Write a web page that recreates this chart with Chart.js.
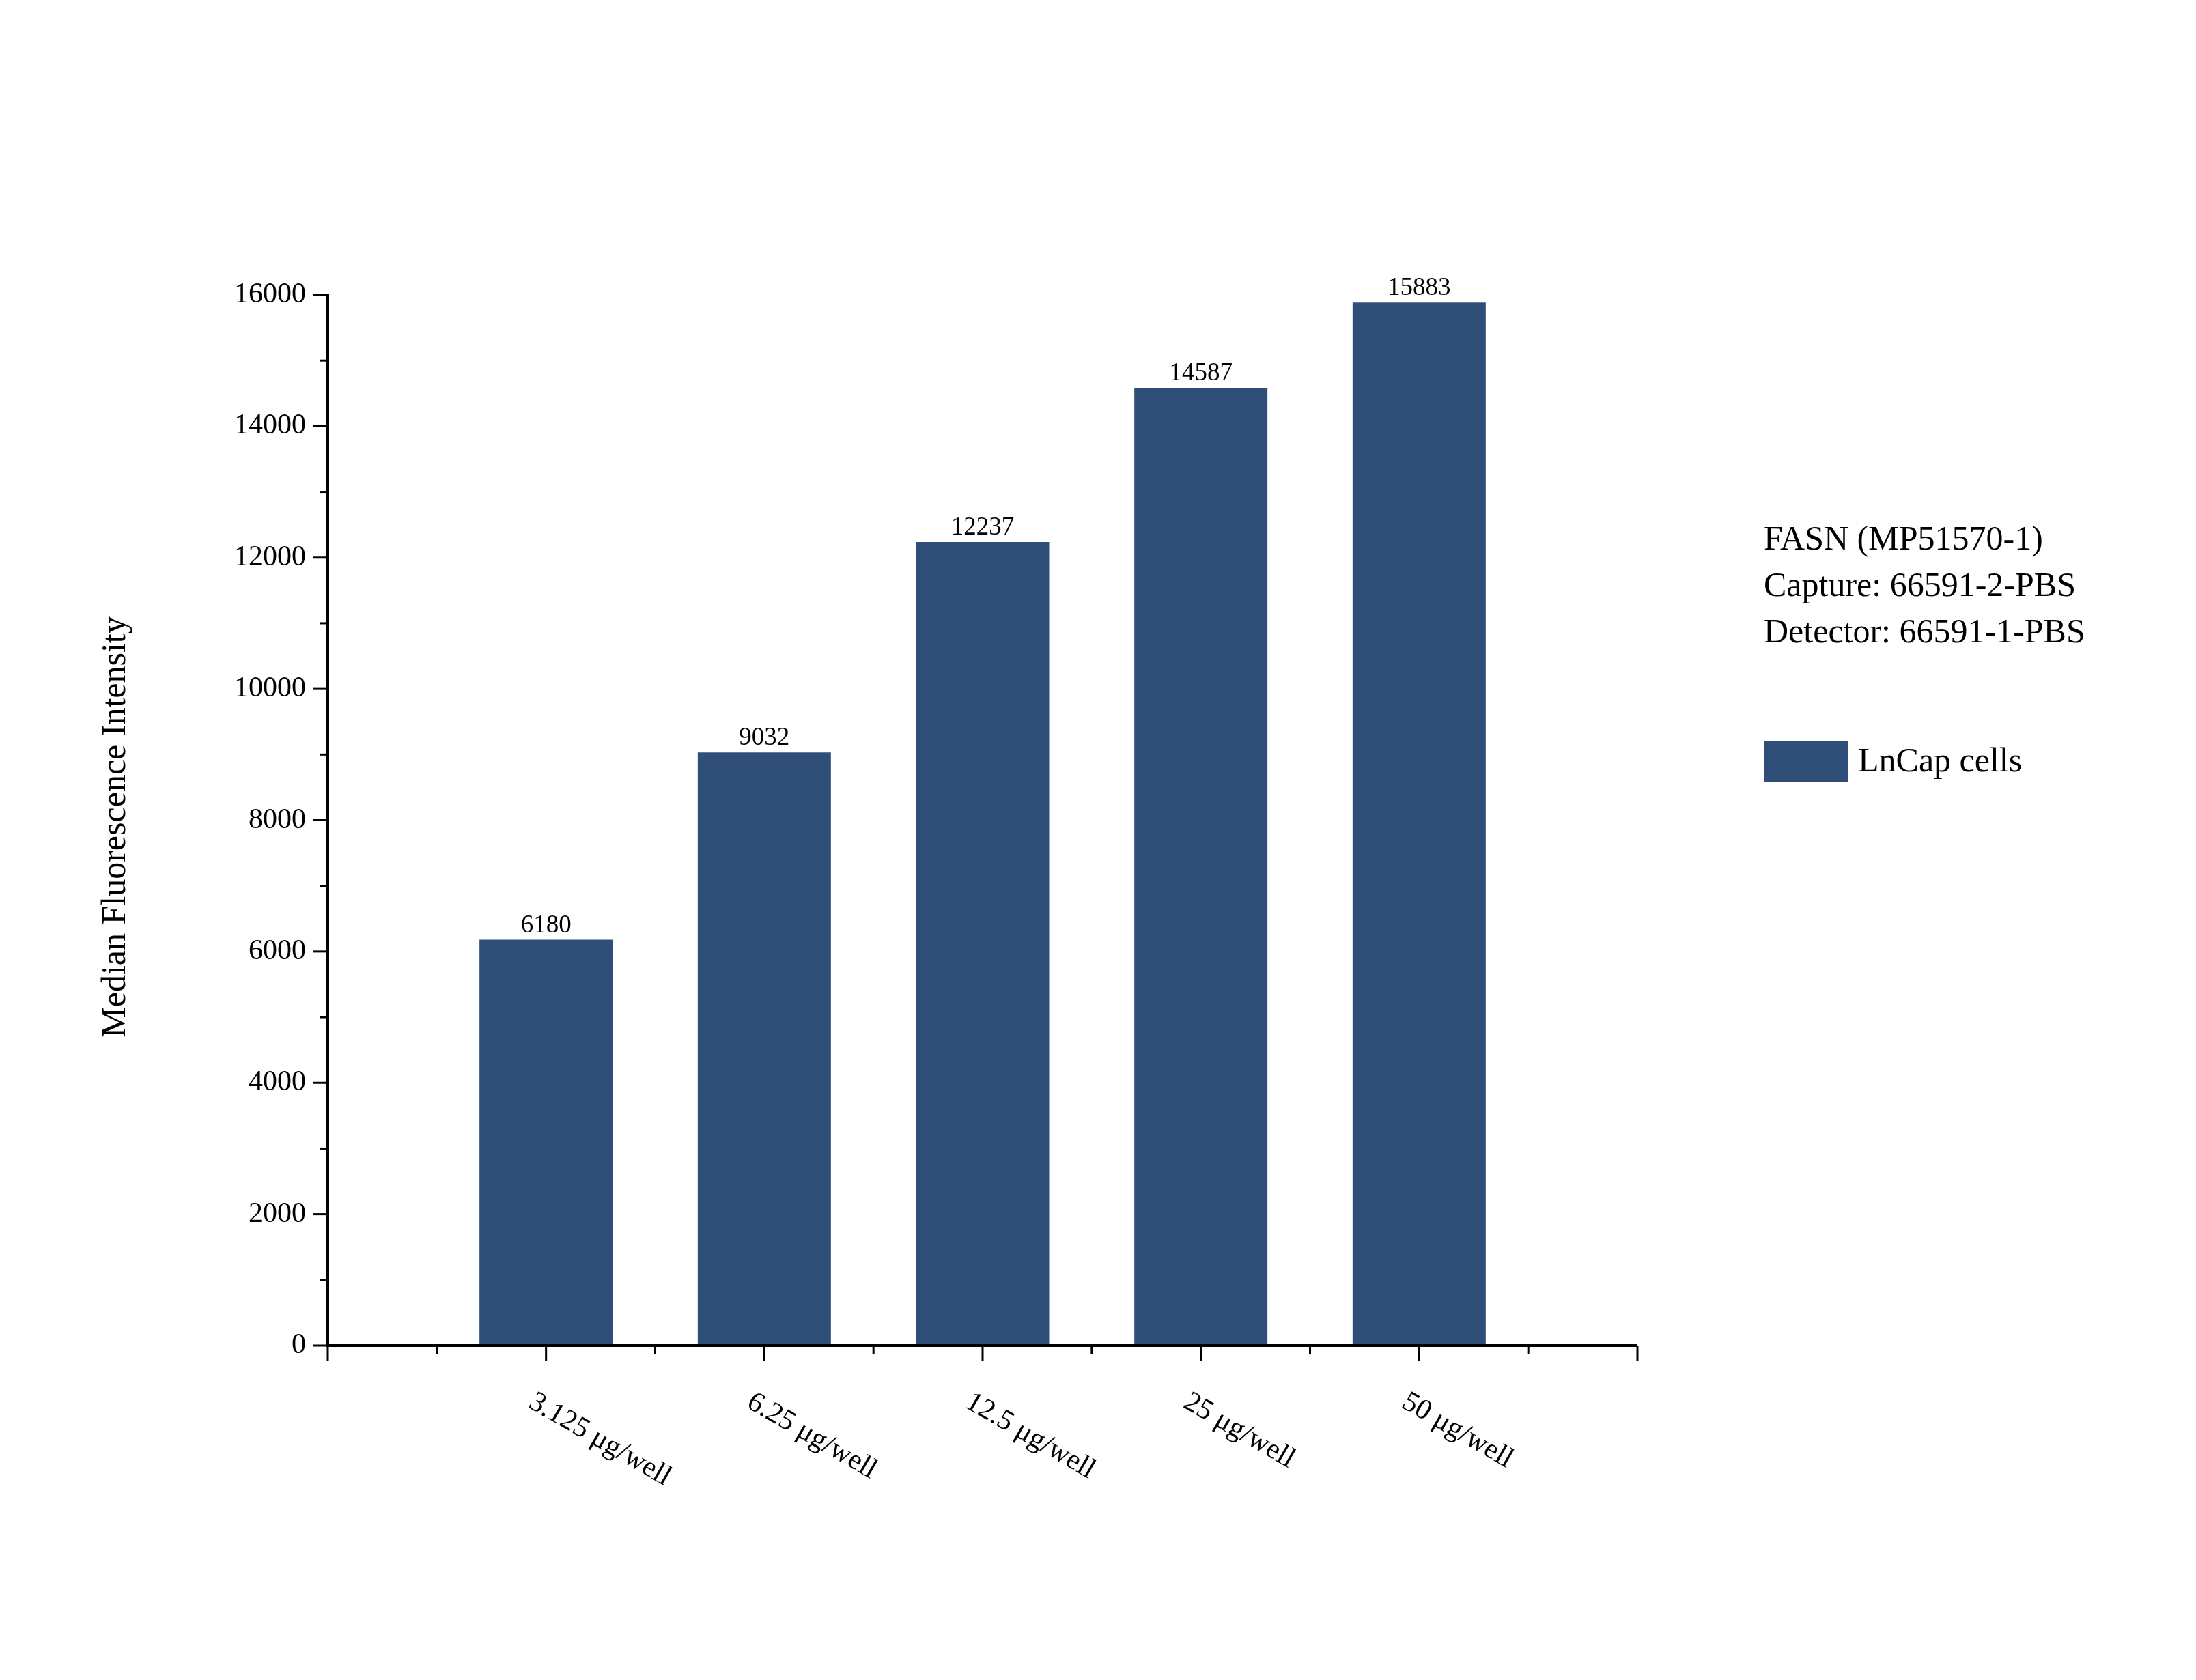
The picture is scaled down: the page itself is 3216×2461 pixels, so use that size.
<!DOCTYPE html>
<html><head><meta charset="utf-8">
<script src="https://cdn.jsdelivr.net/npm/chart.js@4/dist/chart.umd.min.js"></script>
<style>html,body{margin:0;padding:0;background:#fff}#c{display:block}</style>
</head><body>
<canvas id="c" width="3216" height="2461"></canvas>
<script>
const categories = ["3.125 μg/well","6.25 μg/well","12.5 μg/well","25 μg/well","50 μg/well"];
const values = [6180, 9032, 12237, 14587, 15883];
const yTicks = [0,2000,4000,6000,8000,10000,12000,14000,16000];
const infoLines = ["FASN (MP51570-1)","Capture: 66591-2-PBS","Detector: 66591-1-PBS"];
const seriesName = "LnCap cells";
const color = "#2F4F79";
const F = "'Liberation Serif', 'Times New Roman', serif";

const axesPlugin = {
  id:'axes',
  afterDraw(chart){
    const ctx = chart.ctx, xs = chart.scales.x, ys = chart.scales.y, a = chart.chartArea;
    ctx.save();
    ctx.strokeStyle = '#000'; ctx.lineWidth = 4; ctx.fillStyle = '#000';
    ctx.beginPath(); ctx.moveTo(a.left, a.top - 2); ctx.lineTo(a.left, a.bottom); ctx.lineTo(a.right, a.bottom); ctx.stroke();
    ctx.lineWidth = 3;
    ctx.font = `42px ${F}`; ctx.textAlign = 'right'; ctx.textBaseline = 'middle';
    for (let v = 0; v <= 16000; v += 1000) {
      const y = ys.getPixelForValue(v);
      const major = v % 2000 === 0;
      ctx.beginPath(); ctx.moveTo(a.left, y); ctx.lineTo(a.left - (major ? 22 : 12), y); ctx.stroke();
    }
    yTicks.forEach(v => ctx.fillText(String(v), a.left - 32, ys.getPixelForValue(v)));
    for (let v = 0; v <= 6; v += 0.5) {
      const x = xs.getPixelForValue(v);
      const major = v % 1 === 0;
      ctx.beginPath(); ctx.moveTo(x, a.bottom); ctx.lineTo(x, a.bottom + (major ? 22 : 12)); ctx.stroke();
    }
    ctx.textAlign = 'left'; ctx.textBaseline = 'middle';
    categories.forEach((c, i) => {
      const x = xs.getPixelForValue(i + 1);
      ctx.save(); ctx.translate(x - 22, a.bottom + 80); ctx.rotate(Math.PI / 6);
      ctx.fillText(c, 0, 0); ctx.restore();
    });
    ctx.font = `37px ${F}`; ctx.textAlign = 'center'; ctx.textBaseline = 'bottom';
    values.forEach((v, i) => ctx.fillText(String(v), xs.getPixelForValue(i + 1), ys.getPixelForValue(v) - 2));
    ctx.font = `50px ${F}`; ctx.textAlign = 'center'; ctx.textBaseline = 'middle';
    ctx.save(); ctx.translate(170, (a.top + a.bottom) / 2 + 10); ctx.rotate(-Math.PI / 2);
    ctx.fillText('Median Fluorescence Intensity', 0, 0); ctx.restore();
    ctx.textAlign = 'left';
    infoLines.forEach((t, i) => ctx.fillText(t, 2583, 792 + i * 68));
    ctx.fillStyle = color; ctx.fillRect(2583, 1086, 124, 60);
    ctx.fillStyle = '#000'; ctx.fillText(seriesName, 2721, 1117);
    ctx.restore();
  }
};

new Chart(document.getElementById('c'), {
  type: 'bar',
  data: { datasets: [{ label: seriesName, data: values.map((v, i) => ({x: i + 1, y: v})),
    backgroundColor: color, borderWidth: 0, barPercentage: 0.61, categoryPercentage: 1 }] },
  options: {
    responsive: false, animation: false, devicePixelRatio: 1,
    layout: { padding: { left: 480, top: 432, right: 818, bottom: 490 } },
    plugins: { legend: { display: false }, tooltip: { enabled: false } },
    scales: {
      x: { type: 'linear', min: 0, max: 6, offset: false, display: false },
      y: { min: 0, max: 16000, display: false }
    }
  },
  plugins: [axesPlugin]
});
</script>
</body></html>
